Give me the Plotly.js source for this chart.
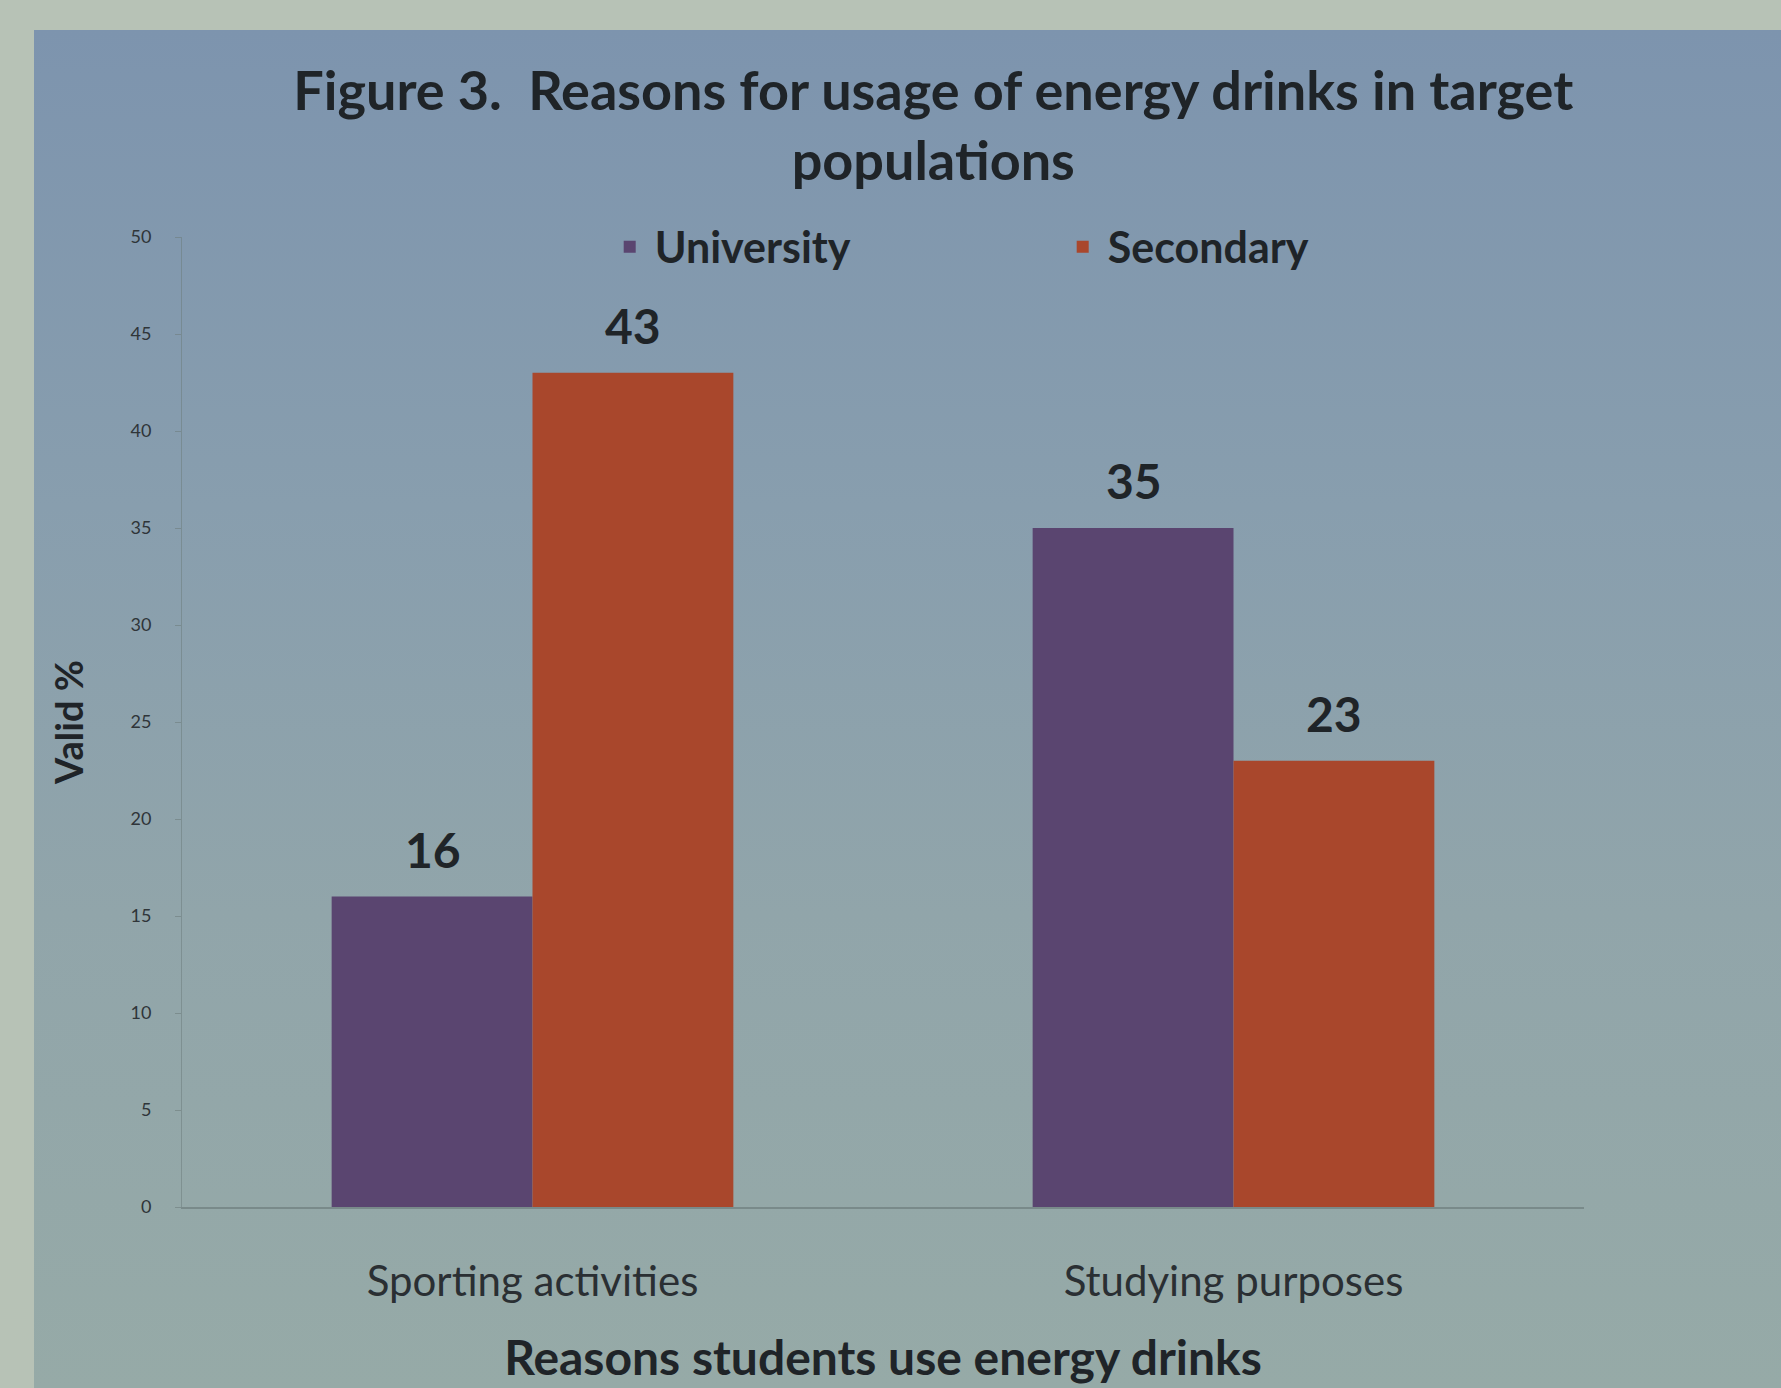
<!DOCTYPE html>
<html>
<head>
<meta charset="utf-8">
<script src="https://cdn.plot.ly/plotly-3.0.1.min.js"></script>
<style>
  html, body { margin: 0; padding: 0; width: 1781px; height: 1388px; overflow: hidden; background: #b7c2b6; }
  #wrap { position: absolute; left: 0; top: 0; width: 1781px; height: 1388px; }
  #panel { position: absolute; left: 34px; top: 30px; right: 0; bottom: 0;
    background: linear-gradient(to bottom, #7d94ae 0%, #889eae 35%, #91a5aa 65%, #96aaa7 100%); }
  #chart { position: absolute; left: 0; top: 0; width: 1781px; height: 1388px; }
</style>
</head>
<body>
<div id="wrap"><div id="panel"></div><div id="chart"></div></div>
<script>
const categories = ["Sporting activities", "Studying purposes"];
const seriesNames = ["University", "Secondary"];
const university = [16, 35];
const secondary = [43, 23];
const yTicks = [0, 5, 10, 15, 20, 25, 30, 35, 40, 45, 50];
const titleText = "Figure 3.  Reasons for usage of energy drinks in target<br>populations";
const xTitle = "Reasons students use energy drinks";
const yTitle = "Valid %";

const colors = ["#5a4570", "#a9472c"];
const font = "Lato, 'Open Sans', sans-serif";
const dark = "#1f2428";

const traces = [university, secondary].map((vals, i) => ({
  type: "bar",
  name: seriesNames[i],
  x: categories,
  y: vals,
  marker: { color: colors[i] },
  hoverinfo: "skip"
}));

const barOffset = 100;
const annotations = [];
[university, secondary].forEach((vals, i) => {
  vals.forEach((v, j) => {
    annotations.push({
      x: categories[j], y: v, xref: "x", yref: "y",
      text: String(v), showarrow: false,
      xshift: (i === 0 ? -barOffset : barOffset), yshift: 17,
      yanchor: "bottom",
      font: { family: font, size: 48, color: dark, weight: 700 }
    });
  });
});

const layout = {
  width: 1781, height: 1388,
  paper_bgcolor: "rgba(0,0,0,0)",
  plot_bgcolor: "rgba(0,0,0,0)",
  margin: { l: 182, r: 197, t: 237, b: 181 },
  title: {
    text: titleText,
    font: { family: font, size: 54, color: dark, weight: 700 },
    x: 0.524, xanchor: "center", y: 0.921, yanchor: "top"
  },
  barmode: "group",
  bargap: 0.427,
  bargroupgap: 0,
  showlegend: true,
  legend: {
    orientation: "h", x: 0.3015, xanchor: "left", y: 0.99, yanchor: "middle",
    font: { family: font, size: 43, color: dark, weight: 700 },
    bgcolor: "rgba(0,0,0,0)", entrywidth: 398, itemwidth: 40, traceorder: "normal"
  },
  xaxis: {
    type: "category",
    showgrid: false,
    showline: true, linecolor: "rgba(110,125,125,0.7)", linewidth: 2,
    ticks: "", zeroline: false,
    tickfont: { family: font, size: 42, color: "#2a2f33" },
    ticklabelstandoff: 37,
    title: { text: xTitle, font: { family: font, size: 48, color: dark, weight: 700 }, standoff: 37 }
  },
  yaxis: {
    range: [0, 50],
    tickvals: yTicks,
    ticktext: yTicks.map(String),
    showgrid: false, zeroline: false,
    showline: true, linecolor: "rgba(110,125,125,0.55)", linewidth: 1,
    ticks: "outside", ticklen: 6, tickcolor: "rgba(110,125,125,0.6)",
    tickfont: { family: font, size: 18, color: "#2f3539" },
    ticklabelstandoff: 20,
    title: { text: yTitle, font: { family: font, size: 38, color: dark, weight: 700 }, standoff: 35 }
  },
  annotations: annotations
};

Plotly.newPlot("chart", traces, layout, { displayModeBar: false, staticPlot: true });
</script>
</body>
</html>
